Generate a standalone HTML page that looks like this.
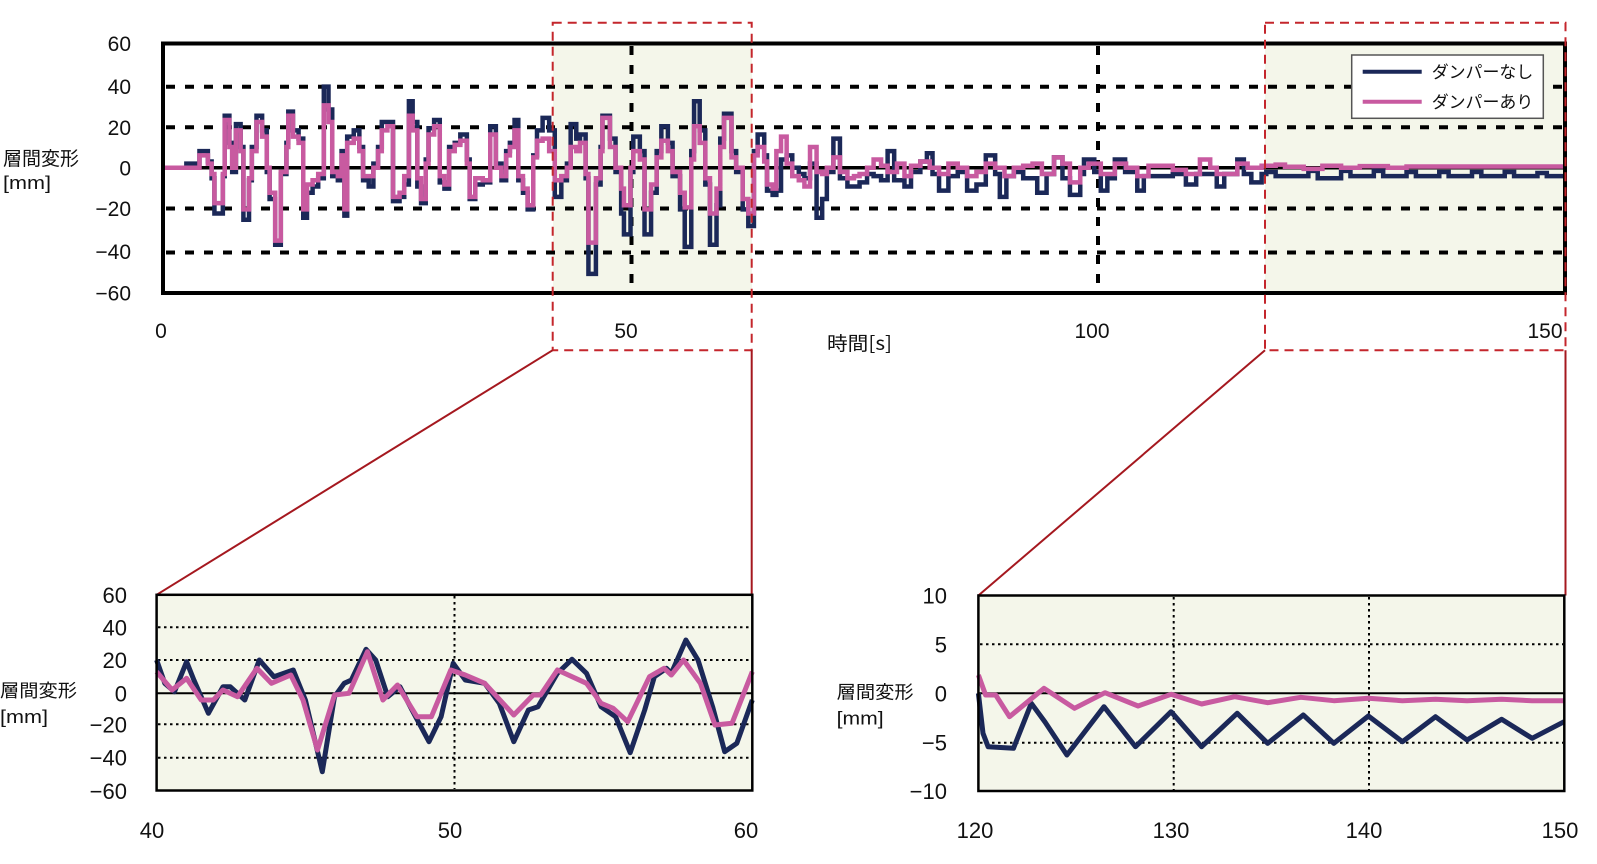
<!DOCTYPE html>
<html><head><meta charset="utf-8"><style>
html,body{margin:0;padding:0;background:#fff;}
svg{display:block;}
text{font-family:"Liberation Sans","Noto Sans CJK JP",sans-serif;fill:#111;}
.cjk{font-family:"Noto Sans CJK JP","Liberation Sans",sans-serif;}
</style></head><body>
<svg width="1597" height="864" viewBox="0 0 1597 864" xmlns="http://www.w3.org/2000/svg">
<!-- TOP CHART -->
<rect x="553" y="45" width="199" height="246" fill="#f4f6ea"/>
<rect x="1265" y="45" width="300" height="246" fill="#f4f6ea"/>
<g stroke="#000" stroke-width="4" stroke-dasharray="9 10" fill="none">
<line x1="166" y1="86.7" x2="1563" y2="86.7"/>
<line x1="166" y1="127.3" x2="1563" y2="127.3"/>
<line x1="166" y1="208.5" x2="1563" y2="208.5"/>
<line x1="166" y1="252.5" x2="1563" y2="252.5"/>
<line x1="631.5" y1="46" x2="631.5" y2="291"/>
<line x1="1098" y1="46" x2="1098" y2="291"/>
</g>
<line x1="163" y1="167.8" x2="1565" y2="167.8" stroke="#000" stroke-width="3.5"/>
<g transform="translate(163,167.8) scale(9.35,-2.08)" fill="none" stroke-linejoin="miter" stroke-linecap="butt">
<path vector-effect="non-scaling-stroke" stroke="#1b2858" stroke-width="4.5" d="M0 0 H2.5 V2 H3.9 V8 H4.8 V3 H5.2 V-5 H5.5 V-22 H6.4 V-4 H6.6 V25 H7.1 V12 H7.4 V-2 H7.8 V21 H8.3 V10 H8.6 V-25 H9.2 V-6 H9.5 V10 H10 V25 H10.6 V18 H11.1 V-2 H11.4 V-15 H12 V-37 H12.6 V-3 H13.2 V12 H13.4 V27 H13.9 V18 H14.5 V14 H15 V-24 H15.4 V-12 H16 V-9 H16.6 V-5 H17.2 V39 H17.7 V28 H18.1 V-4 H18.7 V-6 H19.1 V8 H19.4 V-23 H19.7 V15 H20.4 V18 H21 V10 H21.4 V-6 H22 V-9 H22.5 V2 H23 V10 H23.4 V22 H24.6 V-16 H25.3 V-14 H25.8 V-8 H26.3 V32 H26.7 V22 H27.2 V-9 H27.6 V-17 H28.1 V4 H28.4 V19 H29 V23 H29.6 V-7 H30.1 V-10 H30.6 V10 H31.2 V12 H31.8 V16 H32.5 V4 H32.8 V-15 H33.4 V-8 H34.2 V-7 H35 V20 H35.6 V2 H36.2 V-6 H36.7 V8 H37.1 V12 H37.6 V23 H38 V-6 H38.5 V-12 H39 V-20 H39.6 V6 H40 V18 H40.6 V24 H41.3 V18 H41.9 V-14 H42.6 V-6 H43.2 V2 H43.6 V21 H44.2 V14 H44.6 V16 H45.2 V-5 H45.5 V-51 H46.3 V-8 H46.8 V10 H47 V25 H47.8 V14 H48.4 V-2 H49 V-22 H49.3 V-32 H50 V-2 H50.3 V15 H51 V8 H51.5 V-32 H52.2 V-12 H52.8 V8 H53.3 V20 H54 V12 H54.5 V-4 H55.3 V-20 H55.8 V-38 H56.5 V8 H56.8 V32 H57.4 V18 H58 V-8 H58.5 V-37 H59.2 V-18 H59.6 V14 H60 V26 H60.8 V8 H61.3 V-2 H62 V-20 H62.6 V-28 H63.2 V8 H63.6 V16 H64.3 V6 H64.6 V-11 H65.2 V-13 H65.6 V-11 H66.1 V4 H66.7 V6 H67.3 V0 H68 V-3 H68.6 V-5 H69.2 V2 H69.9 V-24 H70.5 V-15 H71 V-2 H71.7 V14 H72.4 V-5 H73.2 V-9 H74.5 V-7 H75.3 V-3 H76 V-4 H76.8 V-6 H77.5 V8 H78.2 V-6 H79.3 V-9 H80 V-2 H81 V3 H81.7 V7 H82.3 V-3 H83 V-11 H84 V-4 H85 V-2 H86 V-11 H87 V-8 H88 V6 H89 V-3 H89.5 V-14 H90.2 V-4 H91 V-2 H92 V-5 H93.5 V-12 H94.5 V-3 H95.3 V5 H96.2 V-5 H97 V-13 H98.1 V-3 H98.5 V4 H99.6 V-2 H100.3 V-11 H101 V-5 H101.8 V4 H102.9 V-2 H104.2 V-11 H104.9 V-4 H108 V-3 H109.4 V-8 H110.5 V-3 H112.7 V-9 H113.5 V-3 H114.9 V4 H115.6 V-3 H116.4 V-7 H117.5 V-3 H118 V-2 H119 V-4 H122.5 V-1.5 H123.5 V-5 H126 V-1.5 H127 V-4 H129.5 V-1.5 H130.5 V-4 H133 V-2 H134 V-4 H136.5 V-2 H137.5 V-4 H140 V-2 H141 V-4 H143.5 V-2 H144.5 V-4 H147 V-2.5 H148 V-4 H150"/>
<path vector-effect="non-scaling-stroke" stroke="#c85aa0" stroke-width="4.5" d="M0 0 H3.9 V6 H4.8 V2 H5.2 V-3 H5.5 V-17 H6.4 V-3 H6.6 V23 H7.1 V10 H7.4 V0 H7.8 V18 H8.3 V8 H8.6 V-20 H9.2 V-5 H9.5 V8 H10 V22 H10.6 V15 H11.1 V0 H11.4 V-12 H12 V-35 H12.6 V-2 H13.2 V10 H13.4 V25 H13.9 V15 H14.5 V12 H15 V-20 H15.4 V-8 H16 V-6 H16.6 V-3 H17.2 V30 H17.7 V22 H18.1 V-2 H18.7 V-4 H19.1 V6 H19.4 V-20 H19.7 V12 H20.4 V14 H21 V8 H21.4 V-4 H22.5 V0 H23 V8 H23.4 V18 H24 V20 H24.6 V-14 H25.3 V-12 H25.8 V-4 H26.3 V25 H26.7 V18 H27.2 V-5 H27.6 V-15 H28.1 V2 H28.4 V16 H29 V20 H29.6 V-4 H30.1 V-8 H30.6 V8 H31.2 V11 H31.8 V13 H32.5 V2 H32.8 V-14 H33.4 V-5 H34.2 V-6 H35 V16 H35.6 V0 H36.2 V-4 H36.7 V6 H37.1 V10 H37.6 V18 H38 V-4 H38.5 V-10 H39 V-18 H39.6 V5 H40 V13 H40.6 V14 H41.3 V8 H41.9 V-6 H42.6 V-4 H43.2 V0 H43.6 V10 H44.2 V8 H44.6 V12 H45.2 V-3 H45.5 V-36 H46.3 V-5 H46.8 V8 H47 V24 H47.8 V10 H48.4 V0 H49 V-10 H49.3 V-18 H50 V0 H50.3 V8 H51 V4 H51.5 V-20 H52.2 V-8 H52.8 V5 H53.3 V13 H54 V8 H54.5 V-2 H55.3 V-12 H55.8 V-19 H56.5 V4 H56.8 V20 H57.4 V12 H58 V-5 H58.5 V-22 H59.2 V-10 H59.6 V10 H60 V24 H60.8 V5 H61.3 V0 H62 V-15 H62.6 V-22 H63.2 V6 H63.6 V10 H64.3 V3 H64.6 V-8 H65.2 V-10 H65.6 V8 H66.1 V15 H66.7 V2 H67.3 V-4 H68 V-6 H68.6 V-9 H69.2 V10 H69.9 V-2 H70.5 V-3 H71 V0 H71.7 V5 H72.4 V-2 H73.2 V-5 H73.9 V-4 H74.5 V-3 H75.3 V0 H76 V4 H76.8 V1 H77.5 V-2 H78.5 V2 H79.3 V-4 H80 V1 H81 V3 H82 V0 H83 V-3 H84 V2 H85 V0 H86 V-4 H87 V-2 H88 V2 H89 V0 H90 V-4 H91 V0 H92 V1 H93 V2 H94 V-3 H95.3 V5 H96.2 V2 H97 V-7 H98.1 V0 H99 V2 H100.3 V-3 H101.8 V2 H103 V0 H104.2 V-4 H105.4 V1 H108 V-1 H109.4 V-3 H110.9 V4 H112 V0 H112.7 V-3 H114.9 V2 H116 V0 H117.5 V1 H119 V1.5 H120 V0.5 H122 V-0.5 H124 V1 H126 V0 H128 V0.8 H131 V0 H133 V0.6 H150"/>
</g>
<rect x="163" y="43.5" width="1402" height="249.5" fill="none" stroke="#000" stroke-width="4"/>
<!-- red zoom boxes -->
<g fill="none" stroke="#c4262c" stroke-width="2" stroke-dasharray="9 6">
<rect x="552.7" y="22.7" width="199" height="327.5"/>
<rect x="1265" y="22.7" width="300.5" height="327.5"/>
</g>
<g stroke="#a5181f" stroke-width="2" fill="none">
<line x1="552.7" y1="350.2" x2="156.6" y2="594.8"/>
<line x1="751.7" y1="350.2" x2="751.7" y2="594.8"/>
<line x1="1265" y1="350.2" x2="978.4" y2="595.5"/>
<line x1="1565.5" y1="350.2" x2="1565.5" y2="595.5"/>
</g>
<!-- legend -->
<rect x="1351.7" y="55" width="191.6" height="63.3" fill="#fff" stroke="#555" stroke-width="1.5"/>
<line x1="1362.7" y1="71.7" x2="1421.7" y2="71.7" stroke="#1b2858" stroke-width="4"/>
<line x1="1362.7" y1="101.7" x2="1421.7" y2="101.7" stroke="#c85aa0" stroke-width="4"/>
<text class="cjk" x="1431.7" y="78" font-size="17" textLength="101.6" lengthAdjust="spacingAndGlyphs">ダンパーなし</text>
<text class="cjk" x="1431.7" y="108" font-size="17" textLength="101.6" lengthAdjust="spacingAndGlyphs">ダンパーあり</text>
<!-- top labels -->
<g font-size="21" text-anchor="end">
<text x="131" y="51">60</text>
<text x="131" y="94">40</text>
<text x="131" y="135">20</text>
<text x="131" y="175.5">0</text>
<text x="131" y="216">−20</text>
<text x="131" y="259">−40</text>
<text x="131" y="300.5">−60</text>
</g>
<g font-size="21" text-anchor="middle">
<text x="161" y="338">0</text>
<text x="626" y="338">50</text>
<text x="1092" y="338">100</text>
<text x="1545" y="338">150</text>
</g>
<text class="cjk" x="827" y="350" font-size="19" textLength="65" lengthAdjust="spacingAndGlyphs">時間[s]</text>
<text class="cjk" x="3" y="165" font-size="19" textLength="76" lengthAdjust="spacingAndGlyphs">層間変形</text>
<text x="3" y="189" font-size="18" textLength="48" lengthAdjust="spacingAndGlyphs">[mm]</text>

<!-- BOTTOM LEFT CHART -->
<rect x="156.6" y="594.8" width="595.7" height="195.7" fill="#f4f6ea"/>
<g stroke="#000" stroke-width="2" stroke-dasharray="2.5 3.5" fill="none">
<line x1="158" y1="627.3" x2="751" y2="627.3"/>
<line x1="158" y1="660" x2="751" y2="660"/>
<line x1="158" y1="724.3" x2="751" y2="724.3"/>
<line x1="158" y1="757.7" x2="751" y2="757.7"/>
<line x1="454.5" y1="596" x2="454.5" y2="789"/>
</g>
<line x1="156.6" y1="693.3" x2="752.3" y2="693.3" stroke="#000" stroke-width="2"/>
<polyline fill="none" stroke="#1b2858" stroke-width="5" stroke-linejoin="round" points="156.6,660 164.8,683.3 174.5,691.7 186.6,661.7 193.9,680 208.4,713.3 223,686.7 230.2,686.7 244.8,700 259.3,660 273.9,676.7 293.3,670 305.4,700 322.3,771.7 334.5,696.7 344.2,683.3 351.4,680 366,649.3 375.7,660 387.8,696.7 399.9,686.7 412,710 429,741.7 441.1,716.7 453.2,663.3 465.3,680 484.7,683.3 499.3,703.3 513.8,741.7 528.4,710 538,706.7 557.4,673.3 572,659.3 586.5,673.3 601.1,706.7 615.6,716.7 630.2,752.7 644.7,710 654.4,676.7 666.5,668.3 671.3,673.3 685.9,640 698,660 712.6,706.7 724.7,751.7 736.8,743.3 752.3,700"/>
<polyline fill="none" stroke="#c85aa0" stroke-width="5" stroke-linejoin="round" points="156.6,671.7 172.1,690 186.6,678.3 201.2,700 213.3,700 223,690 237.5,696.7 256.9,668.3 271.4,683.3 290.8,675 303,700 317.5,750 334.5,695 349,693.3 367.4,651.7 382.9,700 397.5,685 416.9,716.7 431.4,716.7 450.8,670 465.3,675 484.7,683.3 513.8,715 533.2,695 540.5,695 557.4,670 586.5,683.3 601.1,703.3 613.2,708.3 627.7,721.7 649.5,676.7 664.1,668.3 671.3,675 683.5,660 700.4,683.3 715,725 732,723.3 752.3,671.7"/>
<rect x="156.6" y="594.8" width="595.7" height="195.7" fill="none" stroke="#000" stroke-width="2.5"/>
<g font-size="22" text-anchor="end">
<text x="127" y="603">60</text>
<text x="127" y="635.3">40</text>
<text x="127" y="668">20</text>
<text x="127" y="701.3">0</text>
<text x="127" y="732.3">−20</text>
<text x="127" y="765.7">−40</text>
<text x="127" y="799">−60</text>
</g>
<g font-size="22" text-anchor="middle">
<text x="152" y="838">40</text>
<text x="450" y="838">50</text>
<text x="746" y="838">60</text>
</g>
<text class="cjk" x="0" y="697" font-size="18" textLength="77" lengthAdjust="spacingAndGlyphs">層間変形</text>
<text x="0" y="723" font-size="18" textLength="48" lengthAdjust="spacingAndGlyphs">[mm]</text>

<!-- BOTTOM RIGHT CHART -->
<rect x="978.4" y="595.5" width="585.9" height="195.5" fill="#f4f6ea"/>
<g stroke="#000" stroke-width="2" stroke-dasharray="2.5 3.5" fill="none">
<line x1="980" y1="644.3" x2="1563" y2="644.3"/>
<line x1="980" y1="742.7" x2="1563" y2="742.7"/>
<line x1="1173.7" y1="597" x2="1173.7" y2="790"/>
<line x1="1369" y1="597" x2="1369" y2="790"/>
</g>
<line x1="978.4" y1="693.3" x2="1564.3" y2="693.3" stroke="#000" stroke-width="2"/>
<polyline fill="none" stroke="#1b2858" stroke-width="5" stroke-linejoin="round" points="978.4,693.3 983,733.3 988.1,746.7 1013.5,748.3 1031.3,703.3 1045,722 1066.9,755 1104,706.7 1135.5,746.7 1171.1,711.7 1201.6,746.7 1237.2,713.3 1267.7,743.3 1303.3,715 1333.8,743.3 1368.4,716 1402.4,741.7 1435.5,716.7 1467,740 1501.6,719.3 1532.1,738.3 1564.1,721.7"/>
<polyline fill="none" stroke="#c85aa0" stroke-width="5" stroke-linejoin="round" points="978.4,675 985.6,695 995.7,695 1009.5,716.7 1044,688.3 1074.5,708.3 1105,692.7 1138.1,706 1171.1,694.3 1201.6,704 1234.7,696.7 1267.7,702.7 1300.8,697.3 1333.8,700.7 1368.4,698.3 1402.4,700.7 1435.5,699.3 1467,700.7 1501.6,699.3 1532.1,700.7 1564.1,700.7"/>
<rect x="978.4" y="595.5" width="585.9" height="195.5" fill="none" stroke="#000" stroke-width="2.5"/>
<g font-size="22" text-anchor="end">
<text x="947" y="603.5">10</text>
<text x="947" y="652.3">5</text>
<text x="947" y="701.3">0</text>
<text x="947" y="750.7">−5</text>
<text x="947" y="799">−10</text>
</g>
<g font-size="22" text-anchor="middle">
<text x="975" y="838">120</text>
<text x="1171" y="838">130</text>
<text x="1364" y="838">140</text>
<text x="1560" y="838">150</text>
</g>
<text class="cjk" x="836.6" y="698.5" font-size="18" textLength="77" lengthAdjust="spacingAndGlyphs">層間変形</text>
<text x="836.6" y="724.5" font-size="18" textLength="47" lengthAdjust="spacingAndGlyphs">[mm]</text>
</svg>
</body></html>
